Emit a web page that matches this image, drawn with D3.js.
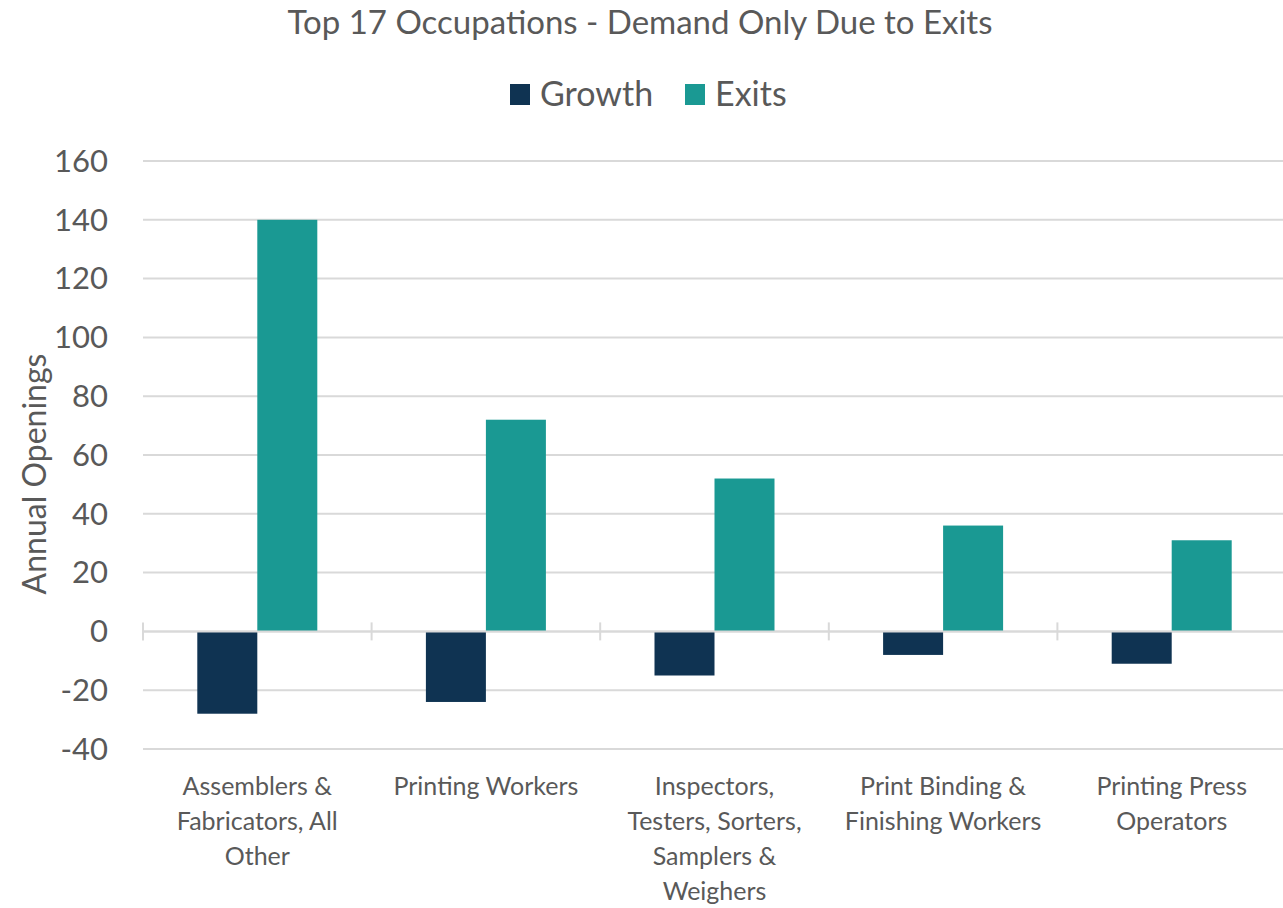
<!DOCTYPE html>
<html>
<head>
<meta charset="utf-8">
<script src="https://cdn.jsdelivr.net/npm/d3@7"></script>
<style>
  html, body { margin: 0; padding: 0; background: #fff; }
  svg { display: block; font-family: Lato, "Open Sans", sans-serif; }
</style>
</head>
<body>
<svg id="chart" width="1283" height="908"></svg>
<script>
// ── Data ─────────────────────────────────────────────────────────────
const categories = [
  ['Assemblers &', 'Fabricators, All', 'Other'],
  ['Printing Workers'],
  ['Inspectors,', 'Testers, Sorters,', 'Samplers &', 'Weighers'],
  ['Print Binding &', 'Finishing Workers'],
  ['Printing Press', 'Operators']
];
const growth = [-28, -24, -15, -8, -11];
const exits = [140, 72, 52, 36, 31];
const seriesNames = ['Growth', 'Exits'];
const yTicks = [-40, -20, 0, 20, 40, 60, 80, 100, 120, 140, 160];

const COLORS = { Growth: '#0f3352', Exits: '#1a9993' };
const TEXT = '#595959';
const GRID = '#d9d9d9';

// ── Layout ───────────────────────────────────────────────────────────
const svg = d3.select('#chart');
const plot = { left: 143, right: 1286, top: 161, bottom: 749 };

const x = d3.scaleBand()
  .domain(d3.range(categories.length))
  .range([plot.left, plot.right])
  .paddingInner(0).paddingOuter(0);

const xInner = d3.scaleBand()
  .domain(seriesNames)
  .range([0, x.bandwidth()])
  .paddingOuter(0.905).paddingInner(0);

const y = d3.scaleLinear().domain([-40, 160]).range([plot.bottom, plot.top]);

// ── Title ────────────────────────────────────────────────────────────
svg.append('text')
  .attr('x', 640).attr('y', 34)
  .attr('text-anchor', 'middle')
  .attr('font-size', 33).attr('fill', TEXT)
  .text('Top 17 Occupations - Demand Only Due to Exits');

// ── Legend ───────────────────────────────────────────────────────────
const legendItems = [
  { name: 'Growth', x: 510 },
  { name: 'Exits', x: 685 }
];
const lg = svg.append('g');
legendItems.forEach(it => {
  lg.append('rect')
    .attr('x', it.x).attr('y', 84).attr('width', 20).attr('height', 21)
    .attr('fill', COLORS[it.name]);
  lg.append('text')
    .attr('x', it.x + 30).attr('y', 106)
    .attr('font-size', 34).attr('fill', TEXT)
    .text(it.name);
});

// ── Grid ─────────────────────────────────────────────────────────────
svg.append('g')
  .selectAll('line')
  .data(yTicks)
  .join('line')
  .attr('x1', plot.left).attr('x2', 1283)
  .attr('y1', d => y(d)).attr('y2', d => y(d))
  .attr('stroke', GRID).attr('stroke-width', 2);

// ── Y axis labels ────────────────────────────────────────────────────
svg.append('g')
  .selectAll('text')
  .data(yTicks)
  .join('text')
  .attr('x', 108).attr('y', d => y(d))
  .attr('dy', '0.35em')
  .attr('text-anchor', 'end')
  .attr('font-size', 31).attr('fill', TEXT)
  .text(d => d);

svg.append('text')
  .attr('transform', `translate(46, ${(plot.top + plot.bottom) / 2 + 19}) rotate(-90)`)
  .attr('text-anchor', 'middle')
  .attr('font-size', 32).attr('fill', TEXT)
  .text('Annual Openings');

// ── Bars ─────────────────────────────────────────────────────────────
const rows = categories.map((c, i) => ({ i, Growth: growth[i], Exits: exits[i] }));

const groups = svg.append('g')
  .selectAll('g')
  .data(rows)
  .join('g')
  .attr('transform', d => `translate(${x(d.i)},0)`);

groups.selectAll('rect')
  .data(d => seriesNames.map(k => ({ key: k, value: d[k] })))
  .join('rect')
  .attr('x', d => xInner(d.key))
  .attr('width', xInner.bandwidth())
  .attr('y', d => y(Math.max(0, d.value)))
  .attr('height', d => Math.abs(y(d.value) - y(0)))
  .attr('fill', d => COLORS[d.key]);

// ── Zero axis with category ticks ────────────────────────────────────
svg.append('line')
  .attr('x1', plot.left).attr('x2', 1283)
  .attr('y1', y(0)).attr('y2', y(0))
  .attr('stroke', GRID).attr('stroke-width', 2);

svg.append('g')
  .selectAll('line')
  .data(d3.range(categories.length))
  .join('line')
  .attr('x1', d => x(d)).attr('x2', d => x(d))
  .attr('y1', y(0) - 9).attr('y2', y(0) + 9)
  .attr('stroke', GRID).attr('stroke-width', 2);

// ── Category labels ──────────────────────────────────────────────────
const labels = svg.append('g')
  .selectAll('text')
  .data(categories)
  .join('text')
  .attr('text-anchor', 'middle')
  .attr('font-size', 25).attr('fill', TEXT)
  .attr('transform', (d, i) => `translate(${x(i) + x.bandwidth() / 2}, 795)`);

labels.selectAll('tspan')
  .data(d => d)
  .join('tspan')
  .attr('x', 0)
  .attr('y', (d, j) => j * 35)
  .text(d => d);
</script>
</body>
</html>
